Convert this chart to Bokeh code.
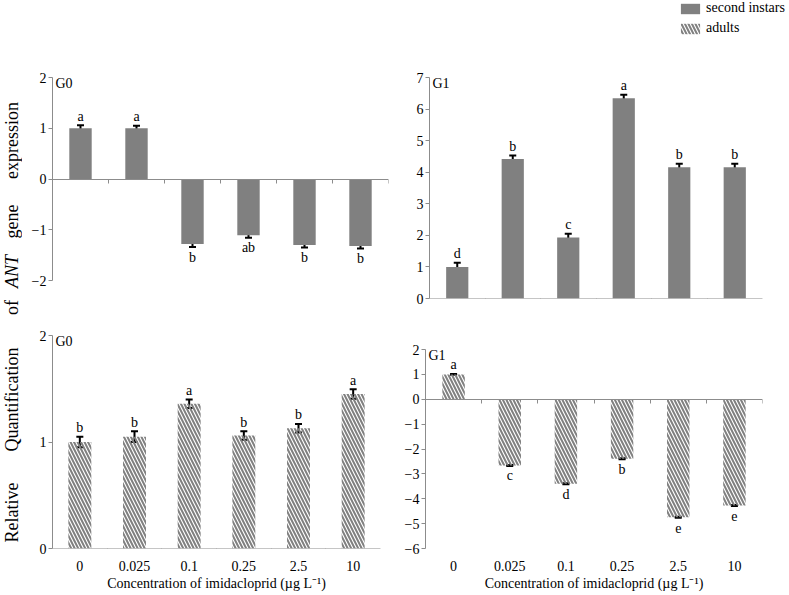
import math
from bokeh.plotting import figure
from bokeh.models import (Range1d, FixedTicker, SingleIntervalTicker, LinearAxis,
                          Whisker, TeeHead, ColumnDataSource, Legend, LegendItem,
                          Label, CustomJSTickFormatter)
from bokeh.layouts import row, column
from bokeh.embed import file_html
from bokeh.resources import INLINE
from bokeh.core.properties import value

# ---------------- data ----------------
concentrations = ["0", "0.025", "0.1", "0.25", "2.5", "10"]

g0_instar = [1.00, 1.00, -1.28, -1.11, -1.30, -1.32]
g0_instar_err = [0.06, 0.05, 0.06, 0.05, 0.05, 0.05]
g0_instar_sig = ["a", "a", "b", "ab", "b", "b"]

g1_instar = [1.00, 4.42, 1.93, 6.34, 4.16, 4.16]
g1_instar_err = [0.13, 0.11, 0.12, 0.11, 0.11, 0.11]
g1_instar_sig = ["d", "b", "c", "a", "b", "b"]

g0_adult = [1.00, 1.05, 1.36, 1.06, 1.13, 1.45]
g0_adult_err = [0.05, 0.05, 0.04, 0.04, 0.04, 0.045]
g0_adult_sig = ["b", "b", "a", "b", "b", "a"]

g1_adult = [1.00, -2.66, -3.40, -2.39, -4.74, -4.27]
g1_adult_err = [0.02, 0.02, 0.02, 0.02, 0.02, 0.02]
g1_adult_sig = ["a", "c", "d", "b", "e", "e"]

series_names = ["second instars", "adults"]
x_title = "Concentration of imidacloprid (\u00b5g L\u207b\u00b9)"
y_title_words = ["Relative", "Quantification", "of", "ANT", "gene", "expression"]
y_title_italic = [False, False, False, True, False, False]

FONT = "Liberation Serif"
AXIS_GREY = "#8c8c8c"
BAR_GREY = "#808080"

n_cat = len(concentrations)
cat_centers = [i + 0.5 for i in range(n_cat)]
cat_edges = list(range(n_cat + 1))


def y_range_for(lo, hi, px_lo, px_hi, frame_top, frame_bottom):
    """Range so that axis bound lo sits at pixel px_lo and hi at px_hi inside a shared frame."""
    upp = (hi - lo) / (px_lo - px_hi)
    return Range1d(lo - (frame_bottom - px_lo) * upp, hi + (px_hi - frame_top) * upp)


def bar_style(hatched):
    if hatched:
        return dict(fill_color="white", fill_alpha=0, line_color=None,
                    hatch_pattern="\\", hatch_color=BAR_GREY, hatch_weight=2, hatch_scale=7)
    return dict(fill_color=BAR_GREY, line_color=None)


def make_panel(tag, vals, errs, sigs, lo, hi, yr, hatched, width, height,
               borders, bar_width, tick_labels):
    bl, br, bt, bb = borders
    p = figure(width=width, height=height,
               x_range=Range1d(0, n_cat), y_range=yr,
               output_backend="svg", toolbar_location=None,
               x_axis_location=None,
               min_border_left=bl, min_border_right=br,
               min_border_top=bt, min_border_bottom=bb)
    p.outline_line_color = None
    p.grid.visible = False
    p.background_fill_color = "white"
    p.border_fill_color = "white"

    # zero line with category-boundary ticks
    edge_axis = LinearAxis(ticker=FixedTicker(ticks=[], minor_ticks=cat_edges),
                           fixed_location=0,
                           axis_line_color=AXIS_GREY, axis_line_width=1,
                           major_tick_in=0, major_tick_out=0,
                           minor_tick_in=4, minor_tick_out=0,
                           minor_tick_line_color=AXIS_GREY,
                           major_label_text_font_size="0px")
    p.add_layout(edge_axis, "above")

    ya = p.yaxis[0]
    ya.bounds = (lo, hi)
    ya.ticker = SingleIntervalTicker(interval=1, num_minor_ticks=0)
    ya.axis_line_color = AXIS_GREY
    ya.major_tick_line_color = AXIS_GREY
    ya.major_tick_out = 4
    ya.major_tick_in = 0
    ya.minor_tick_line_color = None
    ya.major_label_text_font = FONT
    ya.major_label_text_font_size = "14px"
    ya.major_label_text_color = "black"
    ya.major_label_standoff = 2

    src = ColumnDataSource(dict(
        x=cat_centers,
        top=vals,
        upper=[v + e for v, e in zip(vals, errs)],
        lower=[v - e for v, e in zip(vals, errs)],
        sig=sigs,
        label_y=[v + e if v >= 0 else v - e for v, e in zip(vals, errs)],
        off=[-9 if v >= 0 else 10 for v in vals],
    ))
    p.vbar(x="x", top="top", bottom=0, width=bar_width, source=src, **bar_style(hatched))

    w = Whisker(source=src, base="x", upper="upper", lower="lower",
                line_color="black", line_width=2,
                upper_head=TeeHead(size=7, line_width=2, line_color="black"),
                lower_head=TeeHead(size=7, line_width=2, line_color="black"))
    p.add_layout(w)

    p.text(x="x", y="label_y", text="sig", y_offset="off", source=src,
           text_align="center", text_baseline="middle",
           text_font=value(FONT), text_font_size="14px", text_color="black")

    p.add_layout(Label(x=0, y=hi, x_offset=3, y_offset=2,
                       text=tag, text_baseline="top", text_font=FONT,
                       text_font_size="14px", text_color="black"))

    if tick_labels:
        xa = LinearAxis(ticker=FixedTicker(ticks=cat_centers, minor_ticks=[]),
                        formatter=CustomJSTickFormatter(args=dict(labels=concentrations),
                                                        code="return labels[Math.floor(tick)]"),
                        axis_line_color=None, major_tick_in=0, major_tick_out=0,
                        minor_tick_in=0, minor_tick_out=0,
                        major_label_text_font=FONT, major_label_text_font_size="14px",
                        major_label_text_color="black", major_label_standoff=12,
                        axis_label=x_title, axis_label_text_font=FONT,
                        axis_label_text_font_size="14px",
                        axis_label_text_font_style="normal",
                        axis_label_text_color="black", axis_label_standoff=2)
        p.add_layout(xa, "below")
    return p


# ---- layout geometry (pixels) ----
LEG_H = 40
TOP_H = 275          # rows: 40..315
BOT_H = 279          # 315..594
YLAB_W = 22
LEFT_W = 373
RIGHT_W = 393

# top row: shared frame 77..298
tl = make_panel("G0", g0_instar, g0_instar_err, g0_instar_sig, -2, 2,
                y_range_for(-2, 2, 280, 77, 77, 298), False,
                LEFT_W, TOP_H, (30, 7, 37, 17), 0.4, False)
tr = make_panel("G1", g1_instar, g1_instar_err, g1_instar_sig, 0, 7,
                y_range_for(0, 7, 298, 77, 77, 298), False,
                RIGHT_W, TOP_H, (34, 26, 37, 17), 0.4, False)
# bottom row: shared frame 335..548
bl = make_panel("G0", g0_adult, g0_adult_err, g0_adult_sig, 0, 2,
                y_range_for(0, 2, 548, 335, 335, 548), True,
                LEFT_W, BOT_H, (30, 15, 20, 46), 0.42, True)
br = make_panel("G1", g1_adult, g1_adult_err, g1_adult_sig, -6, 2,
                y_range_for(-6, 2, 548, 349, 335, 548), True,
                RIGHT_W, BOT_H, (30, 26, 20, 46), 0.4, True)

# legend strip: series renderers lie below the strip's visible range,
# only their legend swatches are shown
leg = figure(width=YLAB_W + LEFT_W + RIGHT_W, height=LEG_H,
             x_range=Range1d(0, 1), y_range=Range1d(10, 11),
             x_axis_location=None, y_axis_location=None, min_border=0,
             toolbar_location=None, output_backend="svg")
leg.outline_line_color = None
leg.grid.visible = False
solid_sample = leg.vbar(x=cat_centers, top=g1_instar, bottom=0, width=0.4, **bar_style(False))
hatch_sample = leg.vbar(x=cat_centers, top=g0_adult, bottom=0, width=0.4, **bar_style(True))
legend = Legend(items=[LegendItem(label=series_names[0], renderers=[solid_sample], index=0),
                       LegendItem(label=series_names[1], renderers=[hatch_sample], index=0)],
                location=(678, 4), orientation="vertical",
                glyph_width=24, glyph_height=13, label_height=13, label_standoff=4,
                spacing=4, padding=0, margin=0,
                border_line_color=None, background_fill_alpha=0,
                label_text_font=FONT, label_text_font_size="14px", label_text_color="black")
leg.add_layout(legend, "center")

# y-axis title spanning both rows
ylab = figure(width=YLAB_W, height=TOP_H + BOT_H,
              x_range=Range1d(0, YLAB_W), y_range=Range1d(LEG_H + TOP_H + BOT_H, LEG_H),
              x_axis_location=None, y_axis_location=None, min_border=0,
              toolbar_location=None, output_backend="svg")
ylab.outline_line_color = None
ylab.grid.visible = False
word_y = [512, 399, 307, 271, 221, 140]
normal_words = [wd for wd, it in zip(y_title_words, y_title_italic) if not it]
normal_y = [y for y, it in zip(word_y, y_title_italic) if not it]
italic_words = [wd for wd, it in zip(y_title_words, y_title_italic) if it]
italic_y = [y for y, it in zip(word_y, y_title_italic) if it]
ylab.text(x=[11] * len(normal_words), y=normal_y, text=normal_words, angle=math.pi / 2,
          text_align="center", text_baseline="middle", text_font=value(FONT),
          text_font_size="18px", text_color="black")
ylab.text(x=[11] * len(italic_words), y=italic_y, text=italic_words, angle=math.pi / 2,
          text_align="center", text_baseline="middle", text_font=value(FONT),
          text_font_style="italic", text_font_size="18px", text_color="black")

layout = column(leg, row(ylab, column(row(tl, tr), row(bl, br))))

open("out.html", "w").write(file_html(layout, INLINE))
